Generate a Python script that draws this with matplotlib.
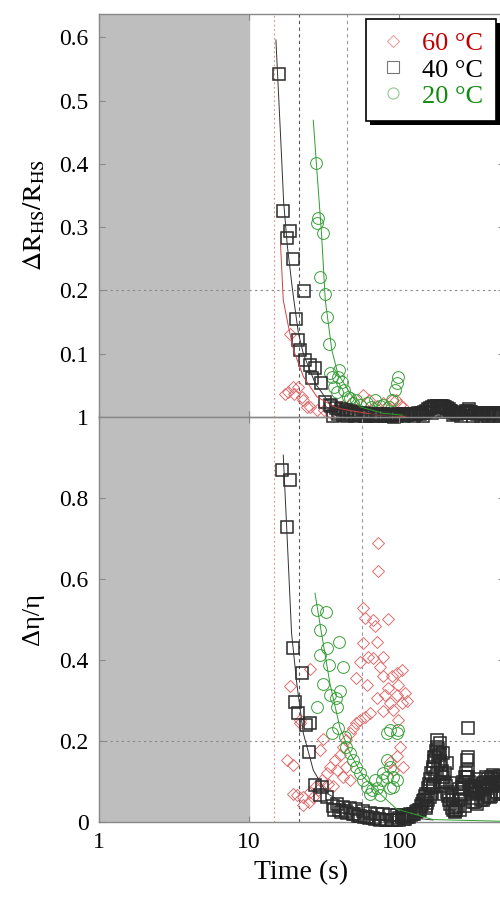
import matplotlib
matplotlib.use("Agg")
import matplotlib.pyplot as plt
import matplotlib.patheffects as pe
from matplotlib.lines import Line2D

plt.rcParams["font.family"] = ["Liberation Serif", "DejaVu Serif"]
plt.rcParams["mathtext.fontset"] = "stix"

# ---------------- data: top panel (dR_HS / R_HS) ----------------
t60_top_x = [18.8, 18.3, 19.8, 17.4, 21.3, 23.0, 25.5, 28.3, 31.5, 34.9, 38.0, 39.8, 42.0,
             49.4, 57.6, 63.0, 70.9, 78.6, 82.8, 89.0, 95.0, 101, 106, 24.2, 22.4, 19.7]
t60_top_y = [0.132, 0.040, 0.037, 0.037, 0.048, 0.027, 0.016, 0.011, 0.011, 0.006, 0.012, 0.012, 0.018,
             0.024, 0.035, 0.027, 0.018, 0.022, 0.018, 0.027, 0.027, 0.019, 0.016, 0.016, 0.032, 0.048]

t40_top_x = [15.9, 16.9, 18.8, 17.9, 19.6, 23.2, 20.6, 21.3, 22.0, 23.6, 25.5, 27.5, 26.2, 30.1,
             32.2, 34.6, 35, 38, 41, 44, 47, 50, 54, 58, 62, 67, 72, 78, 84, 90, 97, 104, 112,
             120, 130, 140, 150, 160, 170, 180, 190, 200, 210, 220, 235, 250, 265, 280, 290,
             300, 320, 340, 360, 380, 400, 420, 440, 460, 480,
             40, 45, 52, 60, 70, 80, 92, 108, 125, 145, 165, 185, 205, 230, 260, 310, 350,
             390, 430, 470,
             100, 103, 106, 109, 112, 115, 118, 122, 126, 130, 134, 138, 142, 146, 151, 156,
             161, 166, 172, 178, 184, 190, 196, 202, 208, 214, 221, 228, 236, 244, 252, 260,
             269, 278, 287, 297, 307, 318, 329, 340, 352, 364, 376, 389, 402, 416, 430, 445,
             460, 476, 492,
             36, 39, 42, 45, 48, 51, 55, 59, 63, 68, 73, 79, 85, 91, 97]
t40_top_y = [0.542, 0.325, 0.294, 0.283, 0.249, 0.199, 0.155, 0.122, 0.106, 0.090, 0.082, 0.077, 0.062,
             0.053, 0.024, 0.019, 0.018, 0.015, 0.013, 0.011, 0.010, 0.008, 0.007, 0.006, 0.005,
             0.005, 0.004, 0.004, 0.004, 0.003, 0.003, 0.004, 0.004, 0.004, 0.005, 0.006, 0.008,
             0.012, 0.016, 0.018, 0.018, 0.016, 0.013, 0.010, 0.007, 0.006, 0.007, 0.008, 0.012,
             0.008, 0.007, 0.007, 0.006, 0.006, 0.006, 0.006, 0.006, 0.006, 0.006,
             0.008, 0.006, 0.003, 0.002, 0.001, 0.001, 0.000, 0.001, 0.001, 0.002, 0.006, 0.010,
             0.008, 0.003, 0.002, 0.002, 0.001, 0.002, 0.002, 0.002,
             0.004, 0.003, 0.005, 0.004, 0.003, 0.005, 0.004, 0.004, 0.005, 0.004, 0.006, 0.005,
             0.007, 0.008, 0.010, 0.012, 0.014, 0.016, 0.017, 0.018, 0.018, 0.017, 0.018, 0.016,
             0.014, 0.012, 0.010, 0.008, 0.006, 0.005, 0.006, 0.006, 0.007, 0.009, 0.010, 0.008,
             0.006, 0.006, 0.005, 0.006, 0.006, 0.005, 0.006, 0.006, 0.005, 0.006, 0.006, 0.005,
             0.006, 0.005, 0.006,
             0.002, 0.004, 0.003, 0.002, 0.004, 0.002, 0.003, 0.001, 0.003, 0.002, 0.003, 0.001,
             0.002, 0.003, 0.001]

t20_top_x = [27.8, 29.0, 28.2, 31.1, 29.7, 32.2, 32.9, 34.2, 34.6, 39.4, 41.4, 36.6, 42.6, 38.6,
             45.7, 52.0, 60.7, 69.0, 78.6, 89.0, 94.0, 96.4, 98.0, 55.0, 64.5, 74.7, 49.4, 85.0,
             40.0, 47.1, 35.6]
t20_top_y = [0.401, 0.314, 0.307, 0.291, 0.222, 0.195, 0.158, 0.116, 0.069, 0.064, 0.056, 0.048,
             0.043, 0.040, 0.032, 0.027, 0.022, 0.027, 0.019, 0.027, 0.043, 0.053, 0.064, 0.019,
             0.016, 0.018, 0.022, 0.016, 0.074, 0.030, 0.063]

fit60_top_x = [16.2, 16.9, 18.3, 19.8, 23.0, 28.3, 38.5, 70.9, 110]
fit60_top_y = [0.274, 0.185, 0.143, 0.106, 0.064, 0.032, 0.014, 0.003, 0.001]
fit40_top_x = [15.1, 15.8, 16.4, 17.0, 18.0, 19.5, 21.3, 23.0, 27.5, 35.6, 45, 60, 100]
fit40_top_y = [0.596, 0.50, 0.42, 0.34, 0.27, 0.20, 0.133, 0.10, 0.054, 0.016, 0.008, 0.004, 0.002]
fit20_top_x = [26.8, 28.2, 30.4, 32.2, 35.6, 39.0, 47.0, 55.0, 78.0, 105]
fit20_top_y = [0.469, 0.395, 0.29, 0.185, 0.106, 0.069, 0.038, 0.016, 0.006, 0.003]

# ---------------- data: bottom panel (d eta / eta) ----------------
t60_bot_x = [72.5, 72.5, 57.6, 58.9, 67.4, 84.7, 69.0, 57.6, 70.9, 54.6, 62.4, 67.4, 78.6, 74.7,
             25.5, 18.8, 104, 96.4, 89.3, 78.6, 52.0, 60.7, 98.0, 84.7, 109, 96.4, 80.6, 70.9,
             104, 86.9, 91.6, 78.6, 64.0, 58.9, 54.6, 52.0, 49.4, 21.8, 21.8, 112, 98.0, 47.1,
             44.6, 31.2, 29.7, 42.2, 40.2, 101, 96.4, 106, 87.0, 91.6, 37.4, 34.6, 32.9, 38.6,
             17.8, 19.5, 44.6, 47.1, 42.2, 30.4, 27.5, 25.5, 20.8, 23.0, 23.0, 24.9, 26.8, 28.9,
             19.7, 33.5, 36.0]
t60_bot_y = [0.690, 0.620, 0.528, 0.503, 0.499, 0.501, 0.484, 0.441, 0.445, 0.396, 0.408, 0.404,
             0.408, 0.383, 0.379, 0.336, 0.375, 0.367, 0.360, 0.360, 0.355, 0.338, 0.338, 0.330,
             0.318, 0.314, 0.314, 0.305, 0.293, 0.293, 0.277, 0.273, 0.270, 0.260, 0.252, 0.244,
             0.232, 0.252, 0.244, 0.300, 0.252, 0.219, 0.202, 0.206, 0.178, 0.186, 0.165, 0.186,
             0.162, 0.137, 0.149, 0.128, 0.153, 0.137, 0.120, 0.128, 0.153, 0.140, 0.137, 0.104,
             0.112, 0.104, 0.087, 0.074, 0.067, 0.062, 0.041, 0.049, 0.062, 0.079, 0.070, 0.095,
             0.090]

t40_bot_x = [16.7, 18.8, 17.8, 19.5, 22.7, 20.3, 21.3, 25.5, 23.9, 25.1, 27.5, 30.4, 29.7, 32.9,
             38.6, 42.2, 47.1, 52.0, 57.6, 64.0, 70.9, 78.6, 87.0, 96.4, 106, 118, 131,
             36, 40, 44, 50, 55, 61, 67, 74, 82, 92, 100, 110, 113, 124,
             289, 289, 289, 187, 187, 183, 190, 169, 161, 153, 138, 208, 218, 230, 241, 262,
             281, 304, 329, 364, 382, 425, 446, 402, 364, 320, 274, 255, 446, 169, 197, 178,
             144, 161, 172, 203, 236, 249, 268, 285, 296, 340, 390, 470, 480, 150, 225, 310, 415,
             100, 104, 108, 112, 116, 120, 125, 130, 135, 140,
             143, 146, 149, 152, 155, 158, 161, 164, 167, 170, 173, 176, 179, 182, 185, 188,
             191, 194, 197, 200,
             150, 156, 162, 168, 174, 180, 186, 192, 198,
             204, 208, 212, 216, 220, 225, 230, 235, 240, 245,
             250, 255, 260, 265, 270, 275, 280, 286, 292, 298,
             305, 312, 319, 326, 333, 340, 348, 356, 364, 372, 380, 389, 398, 407, 416, 426,
             436, 446, 456, 467, 478, 489, 500,
             310, 330, 350, 370, 390, 410, 430, 450, 470, 490,
             37, 41, 45, 49, 53, 58, 63, 69, 75, 82, 89, 96]
t40_bot_y = [0.869, 0.844, 0.729, 0.429, 0.369, 0.297, 0.268, 0.244, 0.240, 0.174, 0.091, 0.087,
             0.067, 0.062, 0.045, 0.038, 0.035, 0.031, 0.027, 0.023, 0.021, 0.019, 0.018, 0.017,
             0.018, 0.021, 0.027,
             0.040, 0.030, 0.028, 0.020, 0.016, 0.012, 0.010, 0.008, 0.006, 0.005, 0.006, 0.008,
             0.013, 0.021,
             0.231, 0.160, 0.128, 0.194, 0.170, 0.145, 0.120, 0.087, 0.062, 0.046, 0.030, 0.146,
             0.096, 0.054, 0.038, 0.087, 0.112, 0.087, 0.071, 0.096, 0.112, 0.116, 0.104, 0.062,
             0.055, 0.050, 0.040, 0.030, 0.075, 0.130, 0.170, 0.202, 0.052, 0.089, 0.160, 0.120,
             0.025, 0.082, 0.100, 0.153, 0.080, 0.105, 0.085, 0.113, 0.100, 0.035, 0.070, 0.060,
             0.090,
             0.010, 0.012, 0.008, 0.015, 0.012, 0.018, 0.020, 0.025, 0.030, 0.040,
             0.045, 0.055, 0.065, 0.070, 0.085, 0.095, 0.105, 0.120, 0.135, 0.150, 0.160, 0.175,
             0.185, 0.180, 0.165, 0.150, 0.140, 0.125, 0.110, 0.100,
             0.040, 0.055, 0.070, 0.090, 0.110, 0.120, 0.100, 0.090, 0.070,
             0.090, 0.075, 0.065, 0.055, 0.045, 0.035, 0.030, 0.028, 0.030, 0.040,
             0.055, 0.065, 0.075, 0.085, 0.095, 0.110, 0.120, 0.110, 0.100, 0.090,
             0.085, 0.080, 0.075, 0.080, 0.070, 0.085, 0.090, 0.080, 0.095, 0.100, 0.090, 0.105,
             0.095, 0.110, 0.100, 0.105, 0.110, 0.095, 0.100, 0.105, 0.095, 0.100, 0.090,
             0.050, 0.045, 0.055, 0.060, 0.065, 0.065, 0.070, 0.075, 0.070, 0.075,
             0.030, 0.025, 0.022, 0.020, 0.015, 0.012, 0.010, 0.008, 0.006, 0.005, 0.005, 0.006]

t20_bot_x = [28.2, 32.5, 29.7, 40.0, 33.3, 29.7, 34.2, 42.0, 31.0, 40.2, 34.6, 38.0, 38.7, 28.2,
             35.6, 39.4, 43.6, 44.6, 47.1, 49.4, 52.0, 54.6, 57.6, 60.7, 65.6, 70.9, 76.6, 82.8,
             87.0, 91.6, 96.4, 82.8, 86.9, 96.4, 98.0, 82.8, 87.0, 91.6, 64.0, 74.7, 78.6, 69.0]
t20_bot_y = [0.523, 0.519, 0.474, 0.445, 0.429, 0.412, 0.388, 0.383, 0.342, 0.324, 0.314, 0.305,
             0.285, 0.285, 0.219, 0.231, 0.210, 0.186, 0.170, 0.153, 0.137, 0.120, 0.104, 0.087,
             0.079, 0.083, 0.104, 0.112, 0.083, 0.087, 0.104, 0.219, 0.226, 0.219, 0.226, 0.153,
             0.137, 0.112, 0.070, 0.066, 0.120, 0.104]

fit40_bot_x = [16.9, 17.8, 19.2, 20.8, 23.0, 26.8, 32.9, 47.0, 78.6, 168]
fit40_bot_y = [0.906, 0.73, 0.466, 0.342, 0.219, 0.128, 0.071, 0.038, 0.017, 0.005]
fit20_bot_x = [27.5, 30.4, 34.6, 40.2, 47.1, 57.6, 78.6, 96.4, 168, 470]
fit20_bot_y = [0.565, 0.466, 0.342, 0.235, 0.170, 0.112, 0.062, 0.032, 0.006, 0.002]

legend_labels = ["60 °C", "40 °C", "20 °C"]

# styles
red = "#dc6e6e"
blk = "#2a2a2a"
grn = "#3a9e3a"

fig = plt.figure(figsize=(5, 8.97), dpi=100)
ax1 = fig.add_axes([0.198, 0.5351, 0.81, 0.4493])
ax2 = fig.add_axes([0.198, 0.0836, 0.81, 0.4515])
ax2.patch.set_alpha(0)

for ax, ymax in [(ax1, 0.637), (ax2, 1.0)]:
    ax.set_xscale("log")
    ax.set_xlim(1, 500)
    ax.set_ylim(0, ymax)
    ax.axvspan(1, 10, color="#bebebe", zorder=0)
    ax.axvline(14.7, color="#e08a8a", ls=(0, (1.5, 2.5)), lw=0.8, zorder=1)
    ax.axvline(21.6, color="#555555", ls=(0, (3, 3)), lw=0.8, zorder=1)
    ax.axhline(0.2, color="#888888", ls=(0, (2, 3)), lw=0.8, zorder=1)
    for s in ax.spines.values():
        s.set_color("#888888")
        s.set_linewidth(1.0)
    ax.tick_params(which="both", direction="in", top=True, right=True,
                   color="#888888", labelsize=17)
    ax.tick_params(axis="y", pad=7.5)
    ax.tick_params(which="major", length=4)
    ax.tick_params(which="minor", length=0)

ax1.axvline(45.2, color="#999999", ls=(0, (3, 3)), lw=0.8, zorder=1)
ax2.axvline(56.4, color="#999999", ls=(0, (3, 3)), lw=0.8, zorder=1)

# top panel
ax1.plot(t60_top_x, t60_top_y, "D", ms=6.5, mfc="none", mec=red, mew=0.7, clip_on=False, zorder=3)
ax1.plot(t20_top_x, t20_top_y, "o", ms=8.5, mfc="none", mec=grn, mew=0.7, clip_on=False, zorder=3)
ax1.plot(t40_top_x, t40_top_y, "s", ms=8, mfc="none", mec=blk, mew=1.1, clip_on=False, zorder=3)
ax1.plot(fit60_top_x, fit60_top_y, color="#d24040", lw=0.7, zorder=4)
ax1.plot(fit40_top_x, fit40_top_y, color="#333333", lw=0.7, zorder=4)
ax1.plot(fit20_top_x, fit20_top_y, color="#2e9e2e", lw=0.7, zorder=4)
ax1.set_yticks([0.1, 0.2, 0.3, 0.4, 0.5, 0.6])
ax1.set_yticklabels(["0.1", "0.2", "0.3", "0.4", "0.5", "0.6"])
ax1.set_xticks([1, 10, 100])
ax1.set_xticklabels([])
ax1.set_ylabel(r"$\Delta\mathrm{R}_{\mathrm{HS}}/\mathrm{R}_{\mathrm{HS}}$", fontsize=19, labelpad=9)

# bottom panel
ax2.plot(t60_bot_x, t60_bot_y, "D", ms=6.5, mfc="none", mec=red, mew=0.7, clip_on=False, zorder=3)
ax2.plot(t20_bot_x, t20_bot_y, "o", ms=8.5, mfc="none", mec=grn, mew=0.7, clip_on=False, zorder=3)
ax2.plot(t40_bot_x, t40_bot_y, "s", ms=8, mfc="none", mec=blk, mew=1.1, clip_on=False, zorder=3)
ax2.plot(fit40_bot_x, fit40_bot_y, color="#333333", lw=0.7, zorder=4)
ax2.plot(fit20_bot_x, fit20_bot_y, color="#2e9e2e", lw=0.7, zorder=4)
ax2.set_yticks([0, 0.2, 0.4, 0.6, 0.8, 1.0])
ax2.set_yticklabels(["0", "0.2", "0.4", "0.6", "0.8", "1"])
ax2.set_xticks([1, 10, 100])
ax2.set_xticklabels(["1", "10", "100"])
ax2.tick_params(axis="x", pad=7)
ax2.set_ylabel("Δη/η", fontsize=19, labelpad=11)
ax2.set_xlabel("Time (s)", fontsize=20, labelpad=5)

# legend
handles = [
    Line2D([], [], marker="D", ms=6, mfc="none", mec="#e8a4a4", mew=0.8, ls="none"),
    Line2D([], [], marker="s", ms=8, mfc="none", mec="#777777", mew=0.8, ls="none"),
    Line2D([], [], marker="o", ms=8, mfc="none", mec="#92c892", mew=0.8, ls="none"),
]
leg = ax1.legend(handles, legend_labels, loc="upper right", bbox_to_anchor=(0.98, 0.988),
                 borderaxespad=0, fancybox=False, framealpha=1, fontsize=19,
                 handletextpad=0.6, borderpad=0.5, labelspacing=0.1, handlelength=1.0)
leg.get_frame().set_edgecolor("black")
leg.get_frame().set_linewidth(1.2)
leg.get_frame().set_path_effects([pe.SimplePatchShadow(offset=(3, -3), shadow_rgbFace="k", alpha=1),
                                  pe.Normal()])
leg.set_zorder(10)
for txt, c in zip(leg.get_texts(), ["#c00000", "black", "#108a10"]):
    txt.set_color(c)

fig.savefig("out.png", dpi=100)
